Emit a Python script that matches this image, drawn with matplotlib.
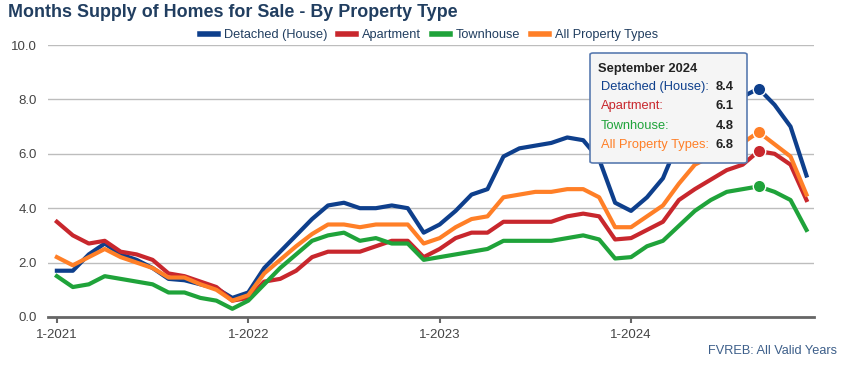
import matplotlib.pyplot as plt
import numpy as np
from matplotlib.patches import FancyBboxPatch

plt.rcParams['font.family'] = ['Liberation Sans', 'DejaVu Sans']

# monthly values, 1-2021 .. 12-2024
months = [f"{m}-{y}" for y in range(2021, 2025) for m in range(1, 13)]
detached = [1.7, 1.7, 2.3, 2.7, 2.3, 2.1, 1.8, 1.4, 1.35, 1.2, 1.05, 0.7,
            0.9, 1.8, 2.4, 3.0, 3.6, 4.1, 4.2, 4.0, 4.0, 4.1, 4.0, 3.1,
            3.4, 3.9, 4.5, 4.7, 5.9, 6.2, 6.3, 6.4, 6.6, 6.5, 5.8, 4.2,
            3.9, 4.4, 5.1, 6.5, 7.0, 7.4, 7.8, 8.1, 8.4, 7.8, 7.0, 5.2]
apartment = [3.5, 3.0, 2.7, 2.8, 2.4, 2.3, 2.1, 1.6, 1.5, 1.3, 1.1, 0.6,
             0.7, 1.3, 1.4, 1.7, 2.2, 2.4, 2.4, 2.4, 2.6, 2.8, 2.8, 2.2,
             2.5, 2.9, 3.1, 3.1, 3.5, 3.5, 3.5, 3.5, 3.7, 3.8, 3.7, 2.85,
             2.9, 3.2, 3.5, 4.3, 4.7, 5.05, 5.4, 5.6, 6.1, 6.0, 5.6, 4.3]
townhouse = [1.5, 1.1, 1.2, 1.5, 1.4, 1.3, 1.2, 0.9, 0.9, 0.7, 0.6, 0.3,
             0.6, 1.2, 1.8, 2.3, 2.8, 3.0, 3.1, 2.8, 2.9, 2.7, 2.7, 2.1,
             2.2, 2.3, 2.4, 2.5, 2.8, 2.8, 2.8, 2.8, 2.9, 3.0, 2.85, 2.15,
             2.2, 2.6, 2.8, 3.35, 3.9, 4.3, 4.6, 4.7, 4.8, 4.6, 4.3, 3.2]
all_types = [2.2, 1.9, 2.2, 2.5, 2.2, 2.0, 1.8, 1.45, 1.45, 1.2, 1.0, 0.6,
             0.8, 1.6, 2.1, 2.6, 3.05, 3.4, 3.4, 3.3, 3.4, 3.4, 3.4, 2.7,
             2.9, 3.3, 3.6, 3.7, 4.4, 4.5, 4.6, 4.6, 4.7, 4.7, 4.4, 3.3,
             3.3, 3.7, 4.1, 4.9, 5.6, 5.9, 6.1, 6.4, 6.8, 6.35, 5.9, 4.5]

series = [("Detached (House)", detached, "#0e3f8c"),
          ("Apartment", apartment, "#c8272d"),
          ("Townhouse", townhouse, "#1fa33a"),
          ("All Property Types", all_types, "#ff7f27")]
highlight = months.index("9-2024")

fig = plt.figure(figsize=(8.44, 3.66), dpi=100)
ax = fig.add_axes([0.057, 0.134, 0.908, 0.743])
x = np.arange(len(months))

for name, vals, col in series:
    ax.plot(x, vals, color=col, lw=3, label=name, solid_joinstyle="round")
for name, vals, col in series:
    ax.plot(x[highlight], vals[highlight], "o", color=col, ms=9,
            mec="white", mew=1.0, zorder=5)

ax.set_xlim(-0.55, 47.5)
ax.set_ylim(0, 10)
ax.set_yticks(np.arange(0, 10.1, 2))
ax.set_yticklabels([f"{v:.1f}" for v in np.arange(0, 10.1, 2)])
ax.grid(axis="y", color="#bdbdbd", lw=1)
ax.set_axisbelow(True)
for s in ["top", "right", "left"]:
    ax.spines[s].set_visible(False)
ax.spines["bottom"].set_color("#666666")
ax.spines["bottom"].set_linewidth(2)
ax.tick_params(axis="y", length=0, labelsize=9.5, labelcolor="#444444", pad=8)
ax.set_xticks([0, 12, 24, 36])
ax.set_xticklabels(["1-2021", "1-2022", "1-2023", "1-2024"])
ax.tick_params(axis="x", length=4, width=1.5, color="#666666",
               labelsize=9.5, labelcolor="#444444", pad=5)

fig.text(0.009, 0.965, "Months Supply of Homes for Sale - By Property Type",
         fontsize=12.9, fontweight="bold", color="#213e60", va="center")
ax.legend(loc="lower center", bbox_to_anchor=(0.497, 0.995), ncol=4,
          frameon=False, fontsize=9.2, handlelength=1.4, handletextpad=0.47,
          columnspacing=0.86, borderaxespad=0)
for t in ax.get_legend().get_texts():
    t.set_color("#213e60")
for h in ax.get_legend().legend_handles:
    h.set_linewidth(4)

fig.text(0.992, 0.04, "FVREB: All Valid Years", fontsize=9.2, color="#3d5f8a",
         ha="right", va="center")

# tooltip
box = FancyBboxPatch((590 / 844, 1 - 163 / 366), 157 / 844, 110 / 366,
                     boxstyle="round,pad=0,rounding_size=0.004",
                     transform=fig.transFigure, facecolor="#f5f5f5",
                     edgecolor="#5a7bb0", lw=1.2, zorder=10)
fig.add_artist(box)
fig.text(598 / 844, 1 - 69 / 366, "September 2024", fontsize=9.3,
         fontweight="bold", color="#222222", va="center", zorder=11)
for k, (name, vals, col) in enumerate(series):
    yy = 1 - (87 + k * 19.3) / 366
    fig.text(601 / 844, yy, name + ":", fontsize=9.3, color=col,
             va="center", zorder=11)
    fig.text(734 / 844, yy, f"{vals[highlight]:.1f}", fontsize=9.3,
             fontweight="bold", color="#222222", va="center", ha="right",
             zorder=11)

fig.savefig("out.png", dpi=100)
